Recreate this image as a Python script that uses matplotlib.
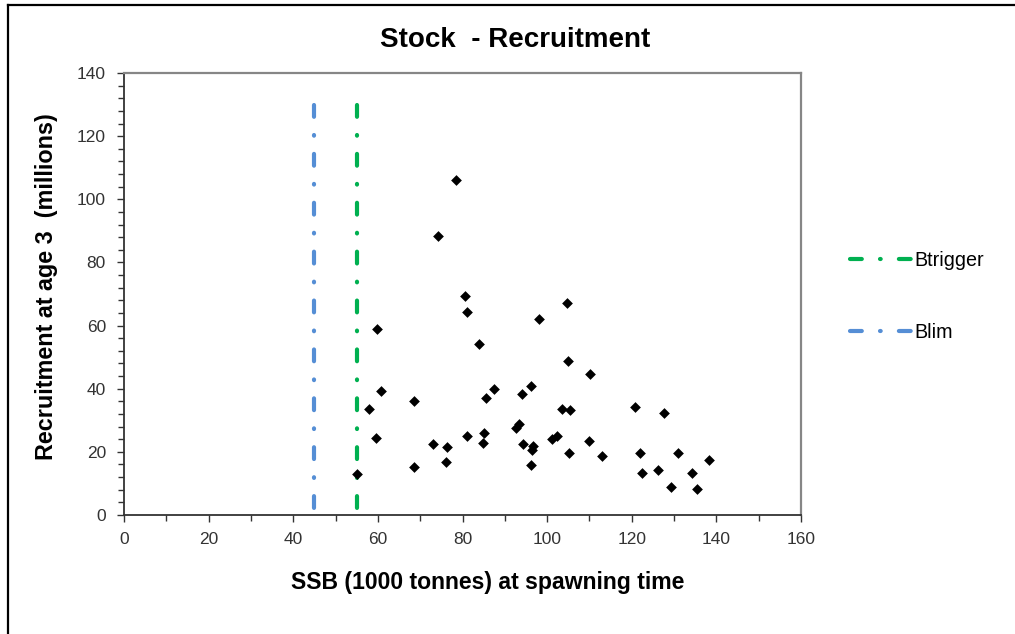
import matplotlib
matplotlib.use("Agg")
import matplotlib.pyplot as plt
from matplotlib.lines import Line2D
from matplotlib.ticker import MultipleLocator

plt.rcParams['font.family'] = ['Liberation Sans', 'DejaVu Sans']
plt.rcParams['lines.scale_dashes'] = False

# Data (SSB in 1000 tonnes, recruitment at age 3 in millions)
ssb = [55.1, 58.0, 59.9, 60.7, 59.6, 68.5, 68.5, 73.0, 74.3, 76.4, 76.2, 78.5,
       80.7, 81.1, 81.1, 83.8, 85.1, 84.9, 85.6, 87.5, 92.6, 93.4, 94.0, 94.3,
       96.2, 96.6, 96.4, 96.1, 98.1, 101.2, 102.3, 103.5, 105.5, 104.6, 104.9,
       105.2, 110.2, 110.0, 113.0, 120.8, 127.6, 122.0, 122.4, 126.2, 129.2,
       131.0, 134.3, 135.5, 138.2]
recruitment = [13.0, 33.5, 58.9, 39.2, 24.3, 36.0, 15.1, 22.5, 88.4, 21.4, 16.9,
               106.0, 69.3, 64.3, 25.0, 54.1, 26.1, 22.9, 37.1, 39.9, 27.5, 28.8,
               38.4, 22.5, 41.0, 21.9, 20.6, 15.8, 62.1, 24.0, 25.0, 33.5, 33.2,
               67.2, 48.8, 19.7, 44.8, 23.5, 18.7, 34.2, 32.4, 19.7, 13.3, 14.4,
               8.8, 19.7, 13.3, 8.3, 17.5]
ref_names = ["Btrigger", "Blim"]
ref_values = [55, 45]
ref_colors = ["#00B050", "#558ED5"]
ref_top = 130

W, H = 1015, 634
fig = plt.figure(figsize=(W / 100, H / 100), dpi=100)
ax = fig.add_axes([124 / W, 1 - 515 / H, (801 - 124) / W, (515 - 73) / H])

dash_pattern = (0, (8.5, 13.1, 0.5, 13.1))
handles = []
for name, val, col in zip(ref_names, ref_values, ref_colors):
    ln, = ax.plot([val, val], [ref_top, 0], color=col, lw=3.0,
                  linestyle=dash_pattern, dash_capstyle='round', label=name, zorder=2)
    handles.append(ln)

ax.scatter(ssb, recruitment, marker='D', s=30, color='black', linewidths=0, zorder=3)

ax.set_xlim(0, 160)
ax.set_ylim(0, 140)
ax.xaxis.set_major_locator(MultipleLocator(20))
ax.xaxis.set_minor_locator(MultipleLocator(10))
ax.yaxis.set_major_locator(MultipleLocator(20))
ax.yaxis.set_minor_locator(MultipleLocator(4))
ax.tick_params(axis='both', which='major', direction='out', length=5, width=1,
               color='#333333', labelsize=12.5, labelcolor='#333333', pad=7)
ax.tick_params(axis='both', which='minor', direction='out', length=4, width=1,
               color='#333333')
ax.tick_params(axis='y', which='major', pad=8)

for s in ['left', 'bottom']:
    ax.spines[s].set_color('#333333')
    ax.spines[s].set_linewidth(1.3)
for s in ['top', 'right']:
    ax.spines[s].set_color('#868686')
    ax.spines[s].set_linewidth(1.6)

fig.text(515 / W, 1 - 40 / H, "Stock  - Recruitment", ha='center', va='center',
         fontsize=20, fontweight='bold')
fig.text(488 / W, 1 - 583 / H, "SSB (1000 tonnes) at spawning time", ha='center',
         va='center', fontsize=16.6, fontweight='bold')
fig.text(47 / W, 1 - 287 / H, "Recruitment at age 3  (millions)", ha='center',
         va='center', rotation=90, fontsize=16.8, fontweight='bold')

leg = fig.legend(handles=handles, labels=ref_names, loc='center left',
                 bbox_to_anchor=(850 / W, 1 - 296.5 / H), frameon=False,
                 fontsize=14.2, handlelength=3.2, handletextpad=0.05,
                 labelspacing=2.7, borderpad=0, borderaxespad=0)

# figure border (top and left)
fig.add_artist(Line2D([8 / W, 1.0], [1 - 5 / H, 1 - 5 / H], transform=fig.transFigure,
                      color='black', lw=1.6))
fig.add_artist(Line2D([8.3 / W, 8.3 / W], [0, 1 - 5 / H], transform=fig.transFigure,
                      color='black', lw=1.6))

fig.savefig("out.png", dpi=100)
